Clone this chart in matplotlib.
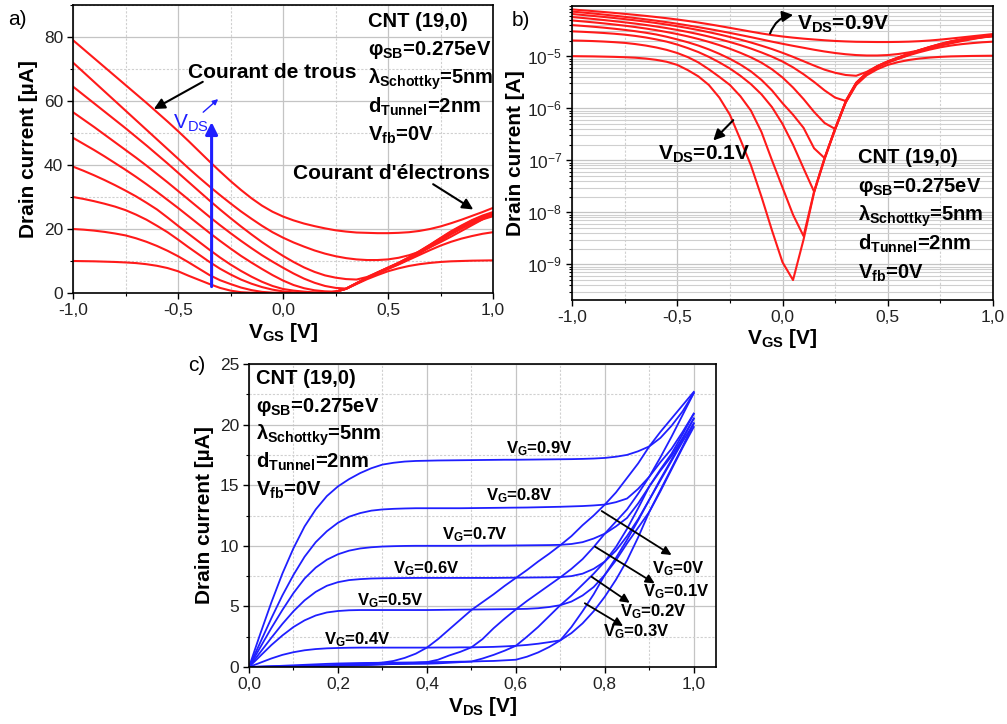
import matplotlib

matplotlib.use("Agg")
import matplotlib.pyplot as plt  # noqa: E402
import numpy as np  # noqa: E402
from matplotlib.ticker import (FixedLocator, FuncFormatter, MultipleLocator,  # noqa: E402
                               NullFormatter)

plt.rcParams["font.family"] = ["Liberation Sans", "DejaVu Sans"]
plt.rcParams["mathtext.fontset"] = "custom"
plt.rcParams["mathtext.rm"] = "Liberation Sans"
plt.rcParams["mathtext.it"] = "Liberation Sans:italic"
plt.rcParams["mathtext.bf"] = "Liberation Sans:bold"

# ---- panels a) and b): transfer curves, drain current in uA vs VGS ----
VGS = np.linspace(-1.0, 1.0, 41)
VDS_LEVELS = [0.1, 0.2, 0.3, 0.4, 0.5, 0.6, 0.7, 0.8, 0.9]
ID_VDS_01 = [10.0, 9.95, 9.9, 9.8, 9.7, 9.55, 9.35, 9.0, 8.5, 7.8, 6.8, 5.4, 4.1, 2.8, 1.6,
             0.75, 0.25, 0.08, 0.02, 0.0045, 0.0011, 0.0005, 0.003, 0.024, 0.105, 0.39, 1.28,
             2.8, 4.3, 5.6, 6.8, 7.7, 8.45, 9.0, 9.4, 9.7, 9.9, 10.0, 10.1, 10.15, 10.2]
ID_VDS_02 = [20.0, 19.8, 19.5, 19.1, 18.6, 18.0, 17.1, 16.0, 14.7, 13.2, 11.5, 9.6, 7.6, 5.6,
             4.0, 2.8, 1.7, 0.9, 0.35, 0.1, 0.03, 0.009, 0.0035, 0.025, 0.11, 0.40, 1.32, 2.95,
             4.6, 6.1, 7.5, 8.9, 10.4, 11.9, 13.4, 14.8, 16.0, 17.0, 17.8, 18.5, 19.0]
ID_VDS_03 = [30.0, 29.4, 28.7, 27.9, 27.0, 25.9, 24.5, 22.9, 21.0, 19.0, 16.7, 14.3, 12.0, 9.7,
             7.6, 5.8, 4.2, 2.9, 1.85, 1.05, 0.5, 0.2, 0.07, 0.025, 0.11, 0.40, 1.3, 2.95, 4.65,
             6.2, 7.6, 9.0, 10.6, 12.4, 14.3, 16.3, 18.3, 20.1, 21.7, 23.0, 24.0]
ID_VDS_04 = [39.5, 38.2, 36.8, 35.3, 33.7, 32.0, 30.2, 28.2, 26.1, 23.6, 21.0, 18.5, 16.0, 13.5,
             11.1, 8.9, 6.9, 5.1, 3.5, 2.2, 1.25, 0.75, 0.42, 0.17, 0.11, 0.41, 1.33, 3.0, 4.7,
             6.3, 7.8, 9.2, 10.8, 12.7, 14.6, 16.6, 18.6, 20.4, 22.0, 23.3, 24.3]
ID_VDS_05 = [48.5, 46.6, 44.7, 42.7, 40.6, 38.5, 36.3, 34.0, 31.6, 29.1, 26.6, 24.0, 21.4, 18.8,
             16.3, 13.9, 11.6, 9.5, 7.5, 5.6, 3.9, 2.5, 1.5, 0.85, 0.52, 0.40, 1.35, 3.05, 4.75,
             6.35, 7.85, 9.3, 11.0, 12.9, 14.9, 16.9, 18.9, 20.7, 22.3, 23.6, 24.6]
ID_VDS_06 = [56.5, 54.2, 51.9, 49.5, 47.1, 44.7, 42.3, 39.8, 37.2, 34.6, 31.9, 29.2, 26.5, 23.8,
             21.2, 18.7, 16.3, 14.0, 11.8, 9.8, 7.9, 6.1, 4.5, 3.2, 2.2, 1.6, 1.38, 3.1, 4.8,
             6.4, 7.9, 9.4, 11.1, 13.0, 15.0, 17.1, 19.1, 20.9, 22.6, 23.9, 25.0]
ID_VDS_07 = [64.5, 61.9, 59.3, 56.7, 54.1, 51.5, 48.8, 46.1, 43.3, 40.5, 37.6, 34.7, 31.8, 28.9,
             26.1, 23.4, 20.8, 18.3, 15.9, 13.7, 11.6, 9.7, 8.0, 6.6, 5.5, 4.8, 4.35, 4.2, 5.0,
             6.45, 7.95, 9.45, 11.15, 13.1, 15.1, 17.2, 19.3, 21.1, 22.8, 24.2, 25.3]
ID_VDS_08 = [72.0, 69.0, 66.0, 63.0, 60.0, 57.0, 54.0, 51.0, 48.0, 45.0, 42.0, 39.0, 36.1, 33.3,
             30.6, 28.0, 25.5, 23.2, 21.0, 19.0, 17.3, 15.8, 14.5, 13.3, 12.3, 11.5, 10.9, 10.5,
             10.3, 10.3, 10.5, 11.0, 11.8, 12.9, 14.3, 15.9, 17.6, 19.4, 21.2, 23.0, 24.7]
ID_VDS_09 = [79.0, 76.2, 73.4, 70.6, 67.8, 65.0, 62.2, 59.4, 56.5, 53.6, 50.6, 47.5, 44.3, 41.1,
             38.0, 35.0, 32.2, 29.6, 27.3, 25.4, 23.9, 22.7, 21.7, 20.9, 20.2, 19.6, 19.2, 18.9,
             18.8, 18.7, 18.7, 18.8, 19.0, 19.4, 20.0, 20.8, 21.8, 22.9, 24.1, 25.3, 26.6]
TRANSFER = [ID_VDS_01, ID_VDS_02, ID_VDS_03, ID_VDS_04, ID_VDS_05,
            ID_VDS_06, ID_VDS_07, ID_VDS_08, ID_VDS_09]

# ---- panel c): output curves, drain current in uA vs VDS ----
VDS = np.linspace(0.0, 1.0, 41)
VG_LEVELS = [0.0, 0.1, 0.2, 0.3, 0.4, 0.5, 0.6, 0.7, 0.8, 0.9]
ID_VG_00 = [0, 0.02, 0.04, 0.06, 0.08, 0.1, 0.12, 0.15, 0.18, 0.21, 0.25, 0.3, 0.36, 0.5, 0.75,
            1.1, 1.6, 2.3, 3.1, 3.9, 4.7, 5.35, 6.0, 6.7, 7.35, 8.0, 8.7, 9.35, 10.05, 10.8,
            11.7, 12.5, 13.4, 14.4, 15.6, 16.8, 18.2, 19.4, 20.5, 21.6, 22.7]
ID_VG_01 = [0, 0.015, 0.03, 0.045, 0.06, 0.075, 0.09, 0.1, 0.12, 0.14, 0.16, 0.19, 0.22, 0.26,
            0.3, 0.35, 0.4, 0.6, 0.95, 1.25, 1.62, 2.3, 3.2, 4.0, 4.75, 5.45, 6.1, 6.75, 7.4,
            8.1, 8.9, 9.9, 11.0, 12.0, 13.0, 14.3, 15.7, 17.3, 19.0, 20.8, 22.6]
ID_VG_02 = [0, 0.012, 0.025, 0.04, 0.05, 0.065, 0.08, 0.09, 0.1, 0.12, 0.14, 0.18, 0.22, 0.24,
            0.25, 0.26, 0.27, 0.3, 0.35, 0.4, 0.45, 0.7, 1.0, 1.35, 1.75, 2.5, 3.3, 4.2, 5.1,
            5.9, 6.8, 7.7, 8.7, 9.9, 11.4, 13.1, 14.9, 16.3, 17.6, 19.2, 20.9]
ID_VG_03 = [0, 0.03, 0.06, 0.1, 0.14, 0.18, 0.22, 0.26, 0.29, 0.31, 0.33, 0.34, 0.35, 0.36,
            0.37, 0.38, 0.4, 0.41, 0.42, 0.44, 0.45, 0.48, 0.5, 0.55, 0.6, 0.85, 1.2, 1.65, 2.2,
            3.3, 4.6, 6.0, 7.6, 9.0, 10.5, 12.1, 13.8, 15.5, 17.1, 18.8, 20.5]
ID_VG_04 = [0, 0.35, 0.7, 1.0, 1.22, 1.38, 1.48, 1.54, 1.57, 1.59, 1.6, 1.6, 1.6, 1.6, 1.6, 1.6,
            1.6, 1.61, 1.61, 1.62, 1.62, 1.64, 1.66, 1.7, 1.75, 1.82, 1.92, 2.05, 2.2, 2.8, 3.6,
            4.6, 5.8, 7.2, 8.8, 10.7, 12.8, 14.6, 16.4, 18.2, 20.1]
ID_VG_05 = [0, 0.9, 1.8, 2.6, 3.3, 3.85, 4.25, 4.5, 4.62, 4.68, 4.7, 4.7, 4.7, 4.7, 4.7, 4.7,
            4.7, 4.71, 4.72, 4.73, 4.74, 4.75, 4.76, 4.77, 4.78, 4.8, 4.85, 4.95, 5.1, 5.4, 5.9,
            6.6, 7.6, 8.8, 10.2, 11.5, 12.8, 14.5, 16.3, 18.1, 19.8]
ID_VG_06 = [0, 1.2, 2.4, 3.55, 4.6, 5.5, 6.2, 6.7, 7.0, 7.17, 7.25, 7.3, 7.32, 7.33, 7.34, 7.35,
            7.35, 7.35, 7.35, 7.35, 7.35, 7.35, 7.35, 7.36, 7.37, 7.38, 7.39, 7.4, 7.42, 7.5,
            7.7, 8.1, 8.7, 9.6, 10.8, 12.2, 13.8, 15.4, 17.0, 18.6, 20.1]
ID_VG_07 = [0, 1.6, 3.2, 4.7, 6.1, 7.3, 8.2, 8.85, 9.3, 9.6, 9.78, 9.88, 9.94, 9.97, 9.99, 10.0,
            10.0, 10.0, 10.0, 10.0, 10.01, 10.01, 10.02, 10.02, 10.03, 10.04, 10.05, 10.06,
            10.08, 10.15, 10.3, 10.6, 11.0, 11.6, 12.3, 13.5, 14.9, 16.2, 17.4, 18.9, 20.5]
ID_VG_08 = [0, 2.0, 4.0, 5.9, 7.6, 9.1, 10.3, 11.2, 11.9, 12.4, 12.7, 12.9, 13.0, 13.05, 13.08,
            13.1, 13.1, 13.1, 13.1, 13.1, 13.11, 13.12, 13.13, 13.14, 13.15, 13.16, 13.18, 13.2,
            13.22, 13.25, 13.28, 13.33, 13.4, 13.6, 13.9, 14.7, 15.7, 16.9, 18.0, 19.4, 20.9]
ID_VG_09 = [0, 2.7, 5.3, 7.7, 9.8, 11.6, 13.0, 14.1, 14.9, 15.5, 16.0, 16.4, 16.7, 16.85, 16.95,
            17.0, 17.02, 17.04, 17.05, 17.06, 17.07, 17.08, 17.09, 17.1, 17.1, 17.11, 17.12,
            17.13, 17.14, 17.15, 17.17, 17.2, 17.25, 17.35, 17.5, 17.8, 18.2, 18.9, 19.9, 21.1,
            22.6]
OUTPUT = [ID_VG_00, ID_VG_01, ID_VG_02, ID_VG_03, ID_VG_04,
          ID_VG_05, ID_VG_06, ID_VG_07, ID_VG_08, ID_VG_09]

PARAM_LINES = [
    "CNT (19,0)",
    r"φ$_{\mathbf{SB}}$=0.275eV",
    r"λ$_{\mathbf{Schottky}}$=5nm",
    r"d$_{\mathbf{Tunnel}}$=2nm",
    r"V$_{\mathbf{fb}}$=0V",
]
LOG_DECADES = [1e-9, 1e-8, 1e-7, 1e-6, 1e-5]

RED = "#ff1a1a"
BLUE = "#1f1fff"
W, H = 1007, 724


def comma_fmt(value, _pos):
    if abs(value) < 1e-9:
        value = 0.0
    return f"{value:.1f}".replace(".", ",")


def decade_fmt(value, _pos):
    return rf"10$^{{{int(round(np.log10(value)))}}}$"


def style_axes(ax):
    ax.set_axisbelow(True)
    ax.grid(which="major", color="#c4c4c4", lw=0.9)
    ax.grid(which="minor", color="#d0d0d0", lw=0.8, ls=(0, (2, 1.5)))
    ax.tick_params(which="major", direction="out", length=4, width=1.0,
                   labelsize=12.5, labelcolor="#222222", pad=3)
    ax.tick_params(which="minor", direction="out", length=2.5, width=0.8)
    for spine in ax.spines.values():
        spine.set_linewidth(1.2)


def param_block(ax, x, y0, step):
    for i, line in enumerate(PARAM_LINES):
        ax.text(x, y0 - i * step, line, transform=ax.transAxes,
                fontsize=14.5, fontweight="bold", va="baseline", ha="left")


fig = plt.figure(figsize=(W / 100, H / 100), dpi=100)

# ---------------- a) linear transfer ----------------
ax_a = fig.add_axes([73 / W, 1 - 293 / H, 420 / W, 288 / H])
for curve in TRANSFER:
    ax_a.plot(VGS, curve, color=RED, lw=1.5)
ax_a.set_xlim(-1.0, 1.0)
ax_a.set_ylim(0, 90)
ax_a.xaxis.set_major_locator(MultipleLocator(0.5))
ax_a.xaxis.set_minor_locator(MultipleLocator(0.25))
ax_a.yaxis.set_major_locator(MultipleLocator(20))
ax_a.yaxis.set_minor_locator(MultipleLocator(10))
ax_a.xaxis.set_major_formatter(FuncFormatter(comma_fmt))
style_axes(ax_a)
ax_a.set_xlabel(r"V$_{\mathbf{GS}}$ [V]", fontsize=15, fontweight="bold", labelpad=2)
ax_a.set_ylabel("Drain current [µA]", fontsize=15, fontweight="bold", labelpad=4)
param_block(ax_a, 0.702, 0.924, 0.099)
ax_a.text(0.274, 0.747, "Courant de trous", transform=ax_a.transAxes,
          fontsize=15, fontweight="bold", va="baseline")
ax_a.annotate("", xy=(-0.615, 57.5), xytext=(-0.382, 66.0),
              arrowprops=dict(arrowstyle="-|>", color="black", lw=1.5,
                              mutation_scale=16, shrinkA=0, shrinkB=0))
ax_a.text(0.993, 0.396, "Courant d'électrons", transform=ax_a.transAxes,
          fontsize=15, fontweight="bold", va="baseline", ha="right")
ax_a.annotate("", xy=(0.906, 26.1), xytext=(0.715, 34.0),
              arrowprops=dict(arrowstyle="-|>", color="black", lw=1.5,
                              mutation_scale=16, shrinkA=0, shrinkB=0))
ax_a.annotate("", xy=(-0.34, 53.4), xytext=(-0.34, 2.0),
              arrowprops=dict(arrowstyle="-|>", color=BLUE, lw=2.2,
                              mutation_scale=18, shrinkA=0, shrinkB=0))
ax_a.text(0.238, 0.569, r"V$_{\mathrm{DS}}$", transform=ax_a.transAxes,
          fontsize=15, color=BLUE, va="baseline")
ax_a.annotate("", xy=(-0.309, 60.6), xytext=(-0.38, 56.5),
              arrowprops=dict(arrowstyle="-|>", color=BLUE, lw=1.0,
                              mutation_scale=8, shrinkA=0, shrinkB=0))

# ---------------- b) log transfer ----------------
ax_b = fig.add_axes([572 / W, 1 - 300 / H, 421 / W, 294 / H])
for curve in TRANSFER:
    ax_b.plot(VGS, np.asarray(curve) * 1e-6, color=RED, lw=1.5)
ax_b.set_yscale("log")
ax_b.set_xlim(-1.0, 1.0)
ax_b.set_ylim(2.07e-10, 9.2e-5)
ax_b.xaxis.set_major_locator(MultipleLocator(0.5))
ax_b.xaxis.set_minor_locator(MultipleLocator(0.25))
ax_b.xaxis.set_major_formatter(FuncFormatter(comma_fmt))
ax_b.yaxis.set_major_locator(FixedLocator(LOG_DECADES))
ax_b.yaxis.set_major_formatter(FuncFormatter(decade_fmt))
ax_b.yaxis.set_minor_locator(FixedLocator(
    [m * d for d in [1e-10] + LOG_DECADES for m in range(2, 10) if 2.07e-10 < m * d < 9.2e-5]))
ax_b.yaxis.set_minor_formatter(NullFormatter())
style_axes(ax_b)
ax_b.grid(which="minor", axis="y", color="#cfcfcf", lw=0.8, ls="-")
ax_b.set_xlabel(r"V$_{\mathbf{GS}}$ [V]", fontsize=15, fontweight="bold", labelpad=2)
ax_b.set_ylabel("Drain current [A]", fontsize=15, fontweight="bold", labelpad=2)
param_block(ax_b, 0.679, 0.466, 0.098)
ax_b.text(0.534, 0.918, r"V$_{\mathbf{DS}}$=0.9V", transform=ax_b.transAxes,
          fontsize=15, fontweight="bold", va="baseline")
ax_b.annotate("", xy=(0.051, 6.2e-5), xytext=(-0.059, 2.73e-5),
              arrowprops=dict(arrowstyle="-|>", color="black", lw=1.5, mutation_scale=16,
                              shrinkA=0, shrinkB=0, connectionstyle="arc3,rad=-0.3"))
ax_b.text(0.204, 0.476, r"V$_{\mathbf{DS}}$=0.1V", transform=ax_b.transAxes,
          fontsize=15, fontweight="bold", va="baseline")
ax_b.annotate("", xy=(-0.329, 2.4e-7), xytext=(-0.234, 5.9e-7),
              arrowprops=dict(arrowstyle="-|>", color="black", lw=1.5,
                              mutation_scale=16, shrinkA=0, shrinkB=0))

# ---------------- c) output characteristics ----------------
ax_c = fig.add_axes([249 / W, 1 - 667 / H, 467 / W, 303 / H])
for curve in OUTPUT:
    ax_c.plot(VDS, curve, color=BLUE, lw=1.3)
ax_c.set_xlim(0, 1.05)
ax_c.set_ylim(0, 25)
ax_c.xaxis.set_major_locator(MultipleLocator(0.2))
ax_c.xaxis.set_minor_locator(MultipleLocator(0.1))
ax_c.yaxis.set_major_locator(MultipleLocator(5))
ax_c.yaxis.set_minor_locator(MultipleLocator(2.5))
ax_c.xaxis.set_major_formatter(FuncFormatter(comma_fmt))
style_axes(ax_c)
ax_c.set_xlabel(r"V$_{\mathbf{DS}}$ [V]", fontsize=15, fontweight="bold", labelpad=2)
ax_c.set_ylabel("Drain current [µA]", fontsize=15, fontweight="bold", labelpad=4)
param_block(ax_c, 0.0157 / 1.05, 23.37 / 25, 2.31 / 25)

VG_LABEL_POS = [(0.905, 7.73), (0.885, 5.80), (0.834, 4.15), (0.796, 2.50),
                (0.169, 1.90), (0.243, 5.12), (0.324, 7.76), (0.434, 10.56),
                (0.533, 13.78), (0.578, 17.66)]
for vg, (lx, ly) in zip(VG_LEVELS, VG_LABEL_POS):
    ax_c.text(lx, ly, rf"V$_{{\mathbf{{G}}}}$={vg:g}V", fontsize=12,
              fontweight="bold", va="baseline")
VG_ARROWS = [((0.793, 12.87), (0.95, 9.24)), ((0.778, 9.93), (0.912, 6.9)),
             ((0.770, 7.45), (0.856, 5.3)), ((0.755, 5.26), (0.841, 3.38))]
for tail, head in VG_ARROWS:
    ax_c.annotate("", xy=head, xytext=tail,
                  arrowprops=dict(arrowstyle="-|>", color="black", lw=1.3,
                                  mutation_scale=13, shrinkA=0, shrinkB=0))

fig.text(8 / W, 1 - 25 / H, "a)", fontsize=15, va="baseline")
fig.text(512 / W, 1 - 26 / H, "b)", fontsize=15, va="baseline")
fig.text(188 / W, 1 - 371 / H, "c)", fontsize=15, va="baseline")

fig.savefig("out.png", dpi=100)
